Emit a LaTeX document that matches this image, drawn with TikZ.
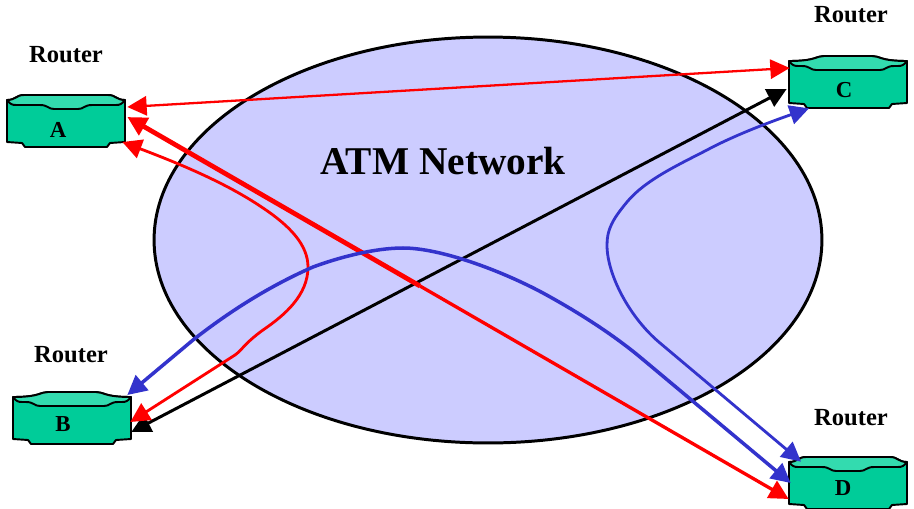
\documentclass[tikz,border=0pt]{standalone}
\usepackage{fontspec}
\setmainfont{Liberation Serif}
\usetikzlibrary{arrows.meta, positioning, shapes.geometric}
\definecolor{atmfill}{RGB}{204, 204, 255}
\definecolor{routerfill}{RGB}{0, 204, 153}
\definecolor{routertop}{RGB}{51, 219, 175}
\definecolor{linkred}{RGB}{255, 0, 0}
\definecolor{linkblue}{RGB}{51, 51, 204}
\tikzset{
  routerbox/.style={minimum width=2.36cm, minimum height=1.04cm, inner sep=0pt},
  routername/.style={font=\bfseries\fontsize{13}{15}\selectfont, inner sep=0pt},
  routerlabel/.style={font=\bfseries\fontsize{14}{16}\selectfont, inner sep=0pt},
  bothtips/.style={{Triangle[length=11pt, width=11pt]}-{Triangle[length=11pt, width=11pt]}},
  redlink/.style={draw=linkred, line width=1.6pt, bothtips},
  bluelink/.style={draw=linkblue, line width=1.6pt, bothtips},
  blacklink/.style={draw=black, line width=1.7pt, bothtips},
}
% #1 node, #2 half width of the outer flat top, #3 half width of the inner flat
\newcommand{\routershape}[3]{
  \begin{scope}[shift={(#1.center)}, line width=1.1pt, line join=round]
    \filldraw[fill=routerfill] (-59,-21)
      .. controls ({-#2-8},-21) and ({-#2-8},-26) .. ({-#2},-26) -- (#2,-26)
      .. controls ({#2+8},-26) and ({#2+8},-21) .. (59,-21) -- (59,21)
      -- (44,22) -- (41,26) -- (-41,26) -- (-44,22) -- (-59,21) -- cycle;
    \filldraw[fill=routertop] (-59,-21)
      .. controls ({-#2-8},-21) and ({-#2-8},-26) .. ({-#2},-26) -- (#2,-26)
      .. controls ({#2+8},-26) and ({#2+8},-21) .. (59,-21)
      .. controls (56,-17) and (54,-16) .. (50,-16) -- ({#3+14},-16)
      .. controls ({#3+6},-16) and ({#3+6},-12) .. (#3,-12) -- ({-#3},-12)
      .. controls ({-#3-6},-12) and ({-#3-6},-16) .. ({-#3-14},-16) -- (-50,-16)
      .. controls (-54,-16) and (-56,-17) .. cycle;
  \end{scope}
}

\begin{document}
\begin{tikzpicture}[x=0.02cm, y=-0.02cm]
  \useasboundingbox (0,0) rectangle (914,508);
  \node[ellipse, draw=black, fill=atmfill, line width=1.7pt, minimum width=13.36cm, minimum height=8.12cm, inner sep=0pt]
    (atm) at (488,240) {};
  \node[font=\bfseries\fontsize{22.4}{24}\selectfont, inner sep=0pt] (atmlabel) at (443,161) {ATM Network};

  % routers
  \node[routerbox] (rA) at (66,121) {};
  \node[routerbox] (rB) at (72,418) {};
  \node[routerbox] (rC) at (848,82) {};
  \node[routerbox] (rD) at (848,483) {};
  \routershape{rA}{42}{12}
  \routershape{rB}{24}{32}
  \routershape{rC}{24}{32}
  \routershape{rD}{42}{12}
  \node[routername] (nameA) at (58,130) {A};
  \node[routername] (nameB) at (63,424) {B};
  \node[routername] (nameC) at (844,90) {C};
  \node[routername] (nameD) at (843,488) {D};
  \node[routerlabel] (labelA) at (66,55) {Router};
  \node[routerlabel] (labelB) at (71,355) {Router};
  \node[routerlabel] (labelC) at (851,15) {Router};
  \node[routerlabel] (labelD) at (851,418) {Router};

  % links
  \coordinate (redmid) at (420,286);
  \draw[blacklink] ([shift={(0,14)}]rB.east) -- ([shift={(-2,7)}]rC.west);
  \draw[redlink, line width=1.3pt] ([shift={(2,-14)}]rA.east) -- ([shift={(1,-14)}]rC.west);
  \draw[draw=linkred, line width=2.7pt, {Triangle[length=11pt, width=11pt]}-] ([shift={(2,-4)}]rA.east) -- (redmid);
  \draw[draw=linkred, line width=1.9pt, -{Triangle[length=11pt, width=11pt]}] (redmid) -- ([shift={(0,16)}]rD.west);
  \draw[redlink] ([shift={(-3,21)}]rA.east)
    .. controls (175,162) and (225,182) .. (263,208)
    .. controls (290,226) and (308,245) .. (308,267)
    .. controls (308,295) and (285,315) .. (263,330)
    .. controls (245,343) and (242,350) .. (235,355)
    -- ([shift={(-1,4)}]rB.east);
  \draw[bluelink, line width=2pt] ([shift={(-4,-23)}]rB.east)
    -- (193,340)
    .. controls (225,315) and (265,288) .. (313,267)
    .. controls (340,257) and (375,248) .. (403,248)
    .. controls (440,248) and (500,270) .. (543,293)
    .. controls (565,305) and (605,328) .. (640,357)
    -- ([shift={(2,0)}]rD.west);
  \draw[bluelink] ([shift={(-39,0)}]rC.south)
    .. controls (770,122) and (735,135) .. (707,150)
    .. controls (680,164) and (645,180) .. (627,202)
    .. controls (612,220) and (607,230) .. (607,245)
    .. controls (607,275) and (630,318) .. (660,343)
    -- ([shift={(-47,5)}]rD.north);
\end{tikzpicture}
\end{document}
